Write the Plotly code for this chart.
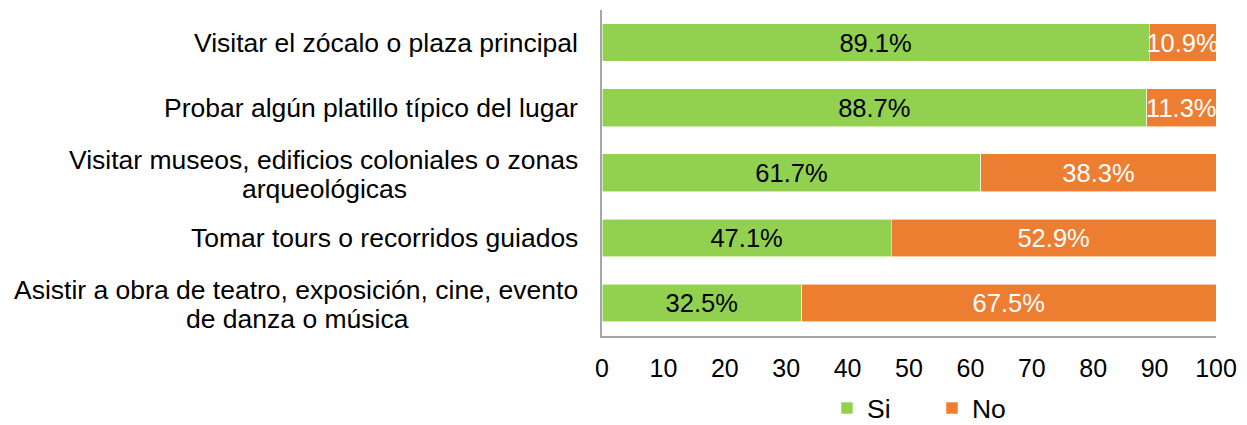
import plotly.graph_objects as go

categories = [
    "Visitar el zócalo o plaza principal",
    "Probar algún platillo típico del lugar",
    "Visitar museos, edificios coloniales o zonas arqueológicas",
    "Tomar tours o recorridos guiados",
    "Asistir a obra de teatro, exposición, cine, evento de danza o música",
]
label_lines = [
    ["Visitar el zócalo o plaza principal"],
    ["Probar algún platillo típico del lugar"],
    ["Visitar museos, edificios coloniales o zonas", "arqueológicas"],
    ["Tomar tours o recorridos guiados"],
    ["Asistir a obra de teatro, exposición, cine, evento", "de danza o música"],
]
si_values = [89.1, 88.7, 61.7, 47.1, 32.5]
no_values = [10.9, 11.3, 38.3, 52.9, 67.5]
x_ticks = [0, 10, 20, 30, 40, 50, 60, 70, 80, 90, 100]

FONT = "Arial, Liberation Sans, sans-serif"
GREEN = "#92D050"
ORANGE = "#ED7D31"
CAT_SIZE = 26.5
VAL_SIZE = 25.5
TICK_SIZE = 25

fig = go.Figure()
fig.add_trace(go.Bar(
    y=categories, x=si_values, orientation="h", name="Si",
    marker=dict(color=GREEN, line=dict(color="rgba(255,255,255,0.7)", width=0.8)),
    text=[f"{v:.1f}%" for v in si_values], textposition="inside",
    insidetextanchor="middle", textangle=0, constraintext="none",
    textfont=dict(color="black", size=VAL_SIZE, family=FONT),
    width=0.58,
))
fig.add_trace(go.Bar(
    y=categories, x=no_values, orientation="h", name="No",
    marker=dict(color=ORANGE, line=dict(color="rgba(255,255,255,0.7)", width=0.8)),
    text=[f"{v:.1f}%" for v in no_values], textposition="inside",
    insidetextanchor="middle", textangle=0, constraintext="none",
    textfont=dict(color="white", size=VAL_SIZE, family=FONT),
    width=0.58,
))

# category labels as annotations (wrapped lines centred on each other)
RIGHT = (580 - 602) / 614
block_centers = {2: (324 - 602) / 614, 4: (297 - 602) / 614}
ann = []
for i, (cat, lines) in enumerate(zip(categories, label_lines)):
    f = dict(size=CAT_SIZE, family=FONT, color="black")
    if len(lines) == 1:
        ann.append(dict(x=RIGHT, xref="paper", y=cat, yref="y", text=lines[0],
                        showarrow=False, xanchor="right", yanchor="middle", font=f))
    else:
        ann.append(dict(x=RIGHT, xref="paper", y=cat, yref="y", text=lines[0],
                        showarrow=False, xanchor="right", yanchor="middle", yshift=13, font=f))
        ann.append(dict(x=block_centers[i], xref="paper", y=cat, yref="y", text=lines[1],
                        showarrow=False, xanchor="center", yanchor="middle", yshift=-16, font=f))

fig.update_layout(
    barmode="stack",
    width=1239, height=417,
    margin=dict(l=594, r=31, t=2, b=88),
    paper_bgcolor="white", plot_bgcolor="white",
    font=dict(family=FONT, size=TICK_SIZE, color="black"),
    xaxis=dict(range=[0, 100], tickvals=x_ticks, showgrid=False, zeroline=False,
               showline=True, linecolor="#A6A6A6", linewidth=1.5, ticks="",
               tickfont=dict(size=TICK_SIZE, family=FONT, color="black"), ticklabelstandoff=10,
               fixedrange=True),
    yaxis=dict(autorange="reversed", showticklabels=False, showgrid=False, zeroline=False,
               showline=True, linecolor="#A6A6A6", linewidth=1.5, ticks="", fixedrange=True),
    legend=dict(orientation="h", xref="container", yref="container",
                x=0.661, xanchor="left", y=0.04, yanchor="middle",
                entrywidth=60, entrywidthmode="pixels",
                font=dict(size=CAT_SIZE, family=FONT), traceorder="normal"),
    annotations=ann,
    showlegend=True,
)
fig.write_html("out.html")
